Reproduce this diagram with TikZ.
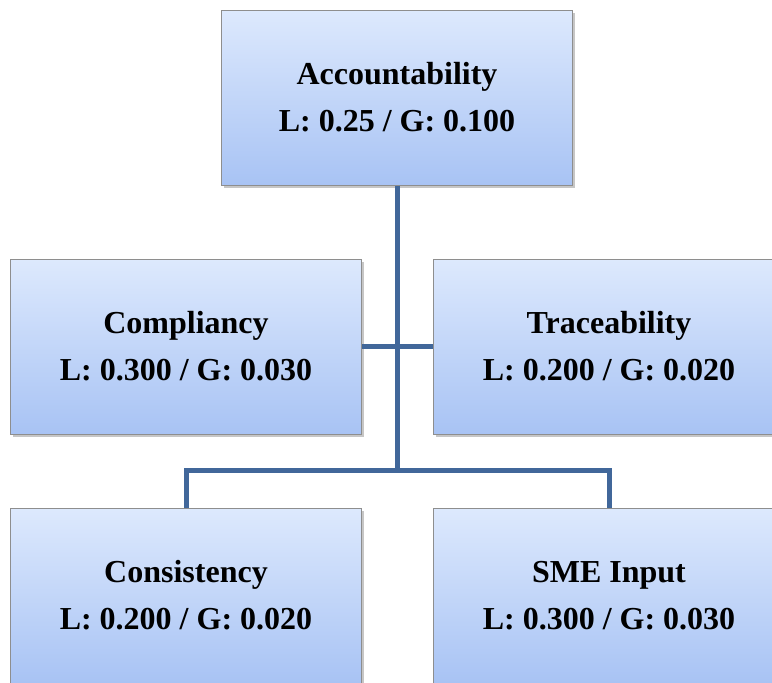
\documentclass[tikz,border=0pt]{standalone}
\usepackage{fontspec}
\setmainfont{Liberation Serif}
\usepackage{xcolor}
\usetikzlibrary{shadows, positioning}
\definecolor{boxtop}{HTML}{DDE9FD}
\definecolor{boxbottom}{HTML}{A8C3F4}
\definecolor{boxedge}{HTML}{8E8E8E}
\definecolor{linkblue}{HTML}{41679A}
\tikzstyle{criterion} = [rectangle, minimum width=351pt, minimum height=175pt,
                         text centered, align=center, draw=boxedge, line width=1pt,
                         top color=boxtop, bottom color=boxbottom,
                         drop shadow={shadow xshift=2pt, shadow yshift=-3pt, opacity=0.45},
                         font=\bfseries\fontsize{32}{47}\selectfont]
\tikzstyle{link} = [draw=linkblue, line width=5pt]

\begin{document}
\begin{tikzpicture}[x=1pt, y=-1pt]
    \useasboundingbox (0,0) rectangle (772,683);

    \node[criterion] (acc) at (397,97.5) {Accountability\\L: 0.25 / G: 0.100};

    \node[criterion] (comp) at (186,346.5) {Compliancy\\L: 0.300 / G: 0.030};
    \node[criterion] (trace) at (609,346.5) {Traceability\\L: 0.200 / G: 0.020};

    \node[criterion] (cons) at (186,595.5) {Consistency\\L: 0.200 / G: 0.020};
    \node[criterion] (sme) at (609,595.5) {SME Input\\L: 0.300 / G: 0.030};

    \coordinate (hub) at (397,470);

    \draw[link] (acc.south) -- (hub);
    \draw[link] (comp.east) -- (trace.west);
    \draw[link] (cons.north) |- (hub) -| (sme.north);
\end{tikzpicture}
\end{document}
